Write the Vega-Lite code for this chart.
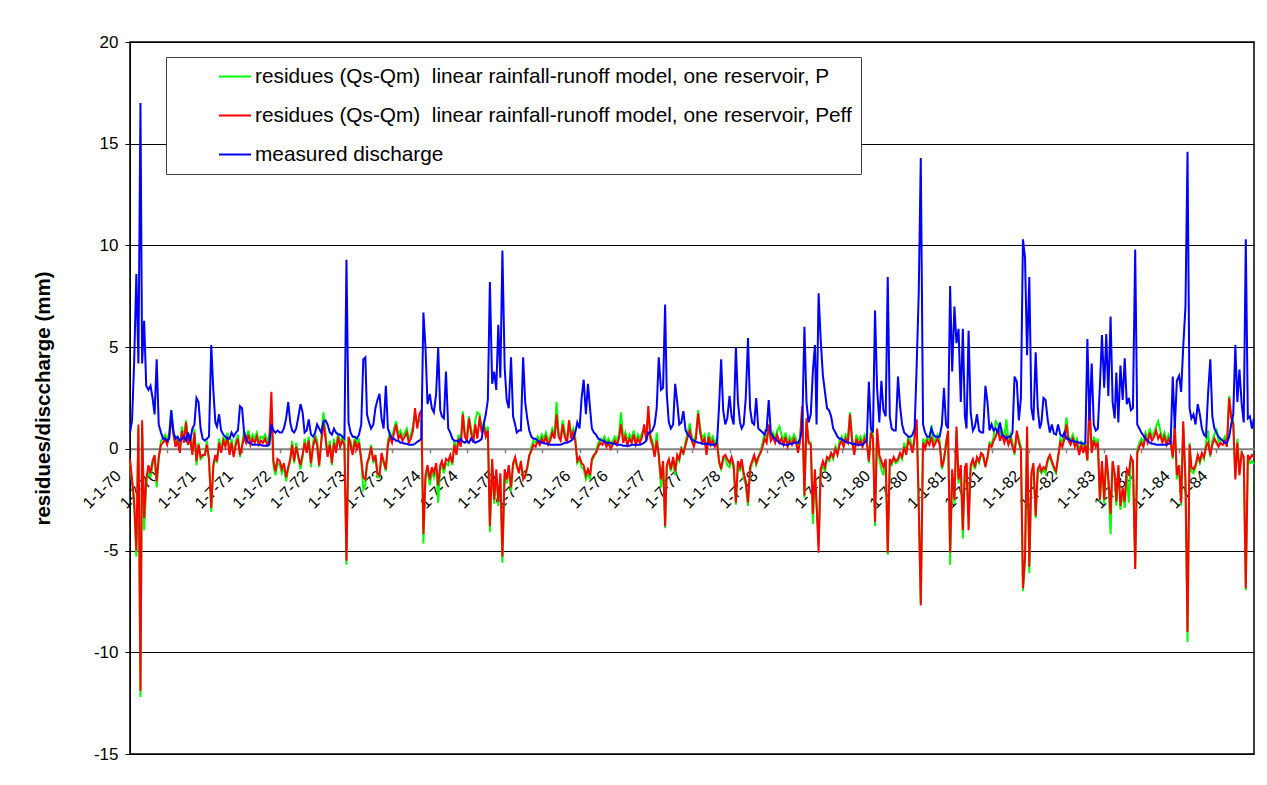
{
  "$schema": "https://vega.github.io/schema/vega-lite/v6.json",
  "width": 1124,
  "height": 712,
  "autosize": {"type": "none"},
  "padding": {"left": 130, "top": 42, "right": 13, "bottom": 31},
  "background": "white",
  "config": {
    "font": "Liberation Sans",
    "view": {"stroke": "black", "strokeWidth": 1.5},
    "line": {"strokeWidth": 2, "clip": true}
  },
  "data": {
    "values": [
      {"t":"1970-01-01","b":0.8,"r":-0.5,"g":-0.6},{"t":"1970-01-11","b":1.4,"r":-1.5,"g":-1.7},{"t":"1970-01-21","b":4.2,"r":-2.5,"g":-2.8},
      {"t":"1970-02-01","b":8.6,"r":-5.0,"g":-5.3},{"t":"1970-02-11","b":4.2,"r":1.2,"g":1.0},{"t":"1970-02-21","b":17.0,"r":-11.9,"g":-12.2},
      {"t":"1970-03-01","b":4.2,"r":1.4,"g":1.2},{"t":"1970-03-11","b":6.3,"r":-3.4,"g":-4.0},{"t":"1970-03-21","b":3.1,"r":-1.5,"g":-1.8},
      {"t":"1970-04-01","b":2.9,"r":-0.8,"g":-1.0},{"t":"1970-04-11","b":3.1,"r":-1.2,"g":-1.4},{"t":"1970-04-21","b":2.5,"r":-0.6,"g":-0.8},
      {"t":"1970-05-01","b":1.7,"r":-0.3,"g":-0.4},{"t":"1970-05-11","b":4.4,"r":-1.6,"g":-1.9},{"t":"1970-05-21","b":1.2,"r":-0.4,"g":-0.5},
      {"t":"1970-06-01","b":0.8,"r":0.2,"g":0.4},{"t":"1970-06-11","b":0.5,"r":0.3,"g":0.5},{"t":"1970-06-21","b":0.5,"r":0.5,"g":0.7},
      {"t":"1970-07-01","b":0.4,"r":0.2,"g":0.4},{"t":"1970-07-11","b":0.5,"r":0.6,"g":0.8},{"t":"1970-07-21","b":1.9,"r":1.5,"g":1.9},
      {"t":"1970-08-01","b":0.8,"r":0.7,"g":0.9},{"t":"1970-08-11","b":0.5,"r":0.1,"g":0.3},{"t":"1970-08-21","b":0.6,"r":0.4,"g":0.6},
      {"t":"1970-09-01","b":0.4,"r":-0.2,"g":-0.1},{"t":"1970-09-11","b":0.5,"r":0.9,"g":1.1},{"t":"1970-09-21","b":0.6,"r":0.3,"g":0.5},
      {"t":"1970-10-01","b":0.4,"r":1.3,"g":1.4},{"t":"1970-10-11","b":0.8,"r":0.2,"g":0.4},{"t":"1970-10-21","b":0.4,"r":0.5,"g":0.7},
      {"t":"1970-11-01","b":1.0,"r":-0.3,"g":-0.2},{"t":"1970-11-11","b":1.2,"r":0.8,"g":1.0},{"t":"1970-11-21","b":2.5,"r":-0.6,"g":-0.8},
      {"t":"1970-12-01","b":2.3,"r":0.2,"g":0.3},{"t":"1970-12-11","b":1.0,"r":-0.4,"g":-0.5},{"t":"1970-12-21","b":0.5,"r":-0.3,"g":-0.4},
      {"t":"1971-01-01","b":0.4,"r":-0.3,"g":-0.2},{"t":"1971-01-11","b":0.5,"r":0.2,"g":0.4},{"t":"1971-01-21","b":0.6,"r":-0.5,"g":-0.6},
      {"t":"1971-02-01","b":5.1,"r":-2.9,"g":-3.1},{"t":"1971-02-11","b":2.9,"r":-0.8,"g":-0.9},{"t":"1971-02-21","b":1.3,"r":-0.3,"g":-0.4},
      {"t":"1971-03-01","b":1.1,"r":-0.6,"g":-0.7},{"t":"1971-03-11","b":1.7,"r":0.3,"g":0.5},{"t":"1971-03-21","b":0.9,"r":-0.2,"g":-0.1},
      {"t":"1971-04-01","b":0.7,"r":0.4,"g":0.6},{"t":"1971-04-11","b":0.6,"r":0.1,"g":0.3},{"t":"1971-04-21","b":0.5,"r":0.6,"g":0.8},
      {"t":"1971-05-01","b":0.5,"r":-0.3,"g":-0.2},{"t":"1971-05-11","b":0.8,"r":0.3,"g":0.5},{"t":"1971-05-21","b":0.6,"r":-0.4,"g":-0.3},
      {"t":"1971-06-01","b":0.8,"r":0.2,"g":0.4},{"t":"1971-06-11","b":0.9,"r":0.5,"g":0.7},{"t":"1971-06-21","b":2.1,"r":-0.3,"g":-0.4},
      {"t":"1971-07-01","b":2.0,"r":0.1,"g":0.2},{"t":"1971-07-11","b":0.8,"r":0.6,"g":0.9},{"t":"1971-07-21","b":0.5,"r":0.3,"g":0.5},
      {"t":"1971-08-01","b":0.3,"r":0.7,"g":0.9},{"t":"1971-08-11","b":0.3,"r":0.2,"g":0.4},{"t":"1971-08-21","b":0.2,"r":0.5,"g":0.7},
      {"t":"1971-09-01","b":0.2,"r":0.3,"g":0.5},{"t":"1971-09-11","b":0.2,"r":0.6,"g":0.8},{"t":"1971-09-21","b":0.2,"r":0.2,"g":0.4},
      {"t":"1971-10-01","b":0.2,"r":0.4,"g":0.6},{"t":"1971-10-11","b":0.15,"r":0.3,"g":0.5},{"t":"1971-10-21","b":0.15,"r":0.5,"g":0.7},
      {"t":"1971-11-01","b":0.15,"r":0.2,"g":0.4},{"t":"1971-11-11","b":0.2,"r":0.4,"g":0.6},{"t":"1971-11-21","b":1.2,"r":2.8,"g":1.4},
      {"t":"1971-12-01","b":0.9,"r":-0.6,"g":-0.8},{"t":"1971-12-11","b":0.8,"r":-1.1,"g":-1.3},{"t":"1971-12-21","b":0.9,"r":-0.5,"g":-0.7},
      {"t":"1972-01-01","b":0.8,"r":-0.6,"g":-0.8},{"t":"1972-01-11","b":0.8,"r":-1.0,"g":-1.2},{"t":"1972-01-21","b":1.0,"r":-0.7,"g":-0.9},
      {"t":"1972-02-01","b":1.5,"r":-1.4,"g":-1.6},{"t":"1972-02-11","b":2.3,"r":-0.9,"g":-1.0},{"t":"1972-02-21","b":1.3,"r":-0.5,"g":-0.6},
      {"t":"1972-03-01","b":0.9,"r":0.2,"g":0.4},{"t":"1972-03-11","b":0.8,"r":-0.6,"g":-0.7},{"t":"1972-03-21","b":1.0,"r":0.1,"g":0.3},
      {"t":"1972-04-01","b":1.6,"r":-0.4,"g":-0.5},{"t":"1972-04-11","b":2.2,"r":-0.8,"g":-1.0},{"t":"1972-04-21","b":1.8,"r":-0.3,"g":-0.4},
      {"t":"1972-05-01","b":0.8,"r":0.3,"g":0.5},{"t":"1972-05-11","b":0.9,"r":-0.2,"g":-0.1},{"t":"1972-05-21","b":1.45,"r":0.4,"g":0.6},
      {"t":"1972-06-01","b":0.7,"r":-0.7,"g":-0.9},{"t":"1972-06-11","b":0.6,"r":0.1,"g":0.3},{"t":"1972-06-21","b":0.8,"r":0.5,"g":0.7},
      {"t":"1972-07-01","b":1.2,"r":0.2,"g":0.4},{"t":"1972-07-11","b":1.0,"r":-0.8,"g":-0.9},{"t":"1972-07-21","b":0.8,"r":0.3,"g":0.5},
      {"t":"1972-08-01","b":1.35,"r":1.3,"g":1.8},{"t":"1972-08-11","b":1.4,"r":0.5,"g":0.8},{"t":"1972-08-21","b":1.2,"r":-0.4,"g":-0.3},
      {"t":"1972-09-01","b":0.8,"r":0.2,"g":0.4},{"t":"1972-09-11","b":0.7,"r":-0.7,"g":-0.8},{"t":"1972-09-21","b":1.0,"r":0.3,"g":0.5},
      {"t":"1972-10-01","b":0.8,"r":-0.2,"g":-0.1},{"t":"1972-10-11","b":0.7,"r":0.6,"g":0.8},{"t":"1972-10-21","b":0.7,"r":0.1,"g":0.3},
      {"t":"1972-11-01","b":0.6,"r":0.4,"g":0.6},{"t":"1972-11-11","b":0.5,"r":0.2,"g":0.4},{"t":"1972-11-21","b":9.3,"r":-5.5,"g":-5.7},
      {"t":"1972-12-01","b":1.3,"r":0.6,"g":0.5},{"t":"1972-12-11","b":0.8,"r":0.2,"g":0.4},{"t":"1972-12-21","b":0.6,"r":-0.3,"g":-0.2},
      {"t":"1973-01-01","b":0.6,"r":0.4,"g":0.6},{"t":"1973-01-11","b":0.5,"r":0.0,"g":0.2},{"t":"1973-01-21","b":0.7,"r":0.3,"g":0.5},
      {"t":"1973-02-01","b":1.2,"r":-0.5,"g":-0.6},{"t":"1973-02-11","b":4.4,"r":-1.4,"g":-2.0},{"t":"1973-02-21","b":4.5,"r":-1.5,"g":-1.8},
      {"t":"1973-03-01","b":1.7,"r":-0.7,"g":-0.8},{"t":"1973-03-11","b":1.3,"r":-0.4,"g":-0.5},{"t":"1973-03-21","b":1.0,"r":0.1,"g":0.2},
      {"t":"1973-04-01","b":1.2,"r":-0.6,"g":-0.7},{"t":"1973-04-11","b":2.0,"r":-0.3,"g":-0.4},{"t":"1973-04-21","b":2.4,"r":-1.2,"g":-1.4},
      {"t":"1973-05-01","b":2.7,"r":-1.3,"g":-1.4},{"t":"1973-05-11","b":1.5,"r":-0.2,"g":-0.3},{"t":"1973-05-21","b":1.0,"r":-0.6,"g":-0.7},
      {"t":"1973-06-01","b":3.1,"r":-1.0,"g":-1.1},{"t":"1973-06-11","b":1.0,"r":0.2,"g":0.4},{"t":"1973-06-21","b":0.7,"r":0.6,"g":0.8},
      {"t":"1973-07-01","b":0.5,"r":0.3,"g":0.5},{"t":"1973-07-11","b":0.5,"r":0.8,"g":1.0},{"t":"1973-07-21","b":0.4,"r":1.2,"g":1.35},
      {"t":"1973-08-01","b":0.4,"r":0.5,"g":0.7},{"t":"1973-08-11","b":0.3,"r":0.7,"g":0.9},{"t":"1973-08-21","b":0.3,"r":0.4,"g":0.6},
      {"t":"1973-09-01","b":0.25,"r":0.6,"g":0.8},{"t":"1973-09-11","b":0.25,"r":0.8,"g":1.0},{"t":"1973-09-21","b":0.2,"r":0.3,"g":0.5},
      {"t":"1973-10-01","b":0.2,"r":0.5,"g":0.7},{"t":"1973-10-11","b":0.2,"r":0.9,"g":1.1},{"t":"1973-10-21","b":0.25,"r":2.0,"g":1.6},
      {"t":"1973-11-01","b":0.35,"r":1.0,"g":1.2},{"t":"1973-11-11","b":0.4,"r":1.7,"g":1.4},{"t":"1973-11-21","b":0.5,"r":1.9,"g":1.3},
      {"t":"1973-12-01","b":6.7,"r":-4.2,"g":-4.65},{"t":"1973-12-11","b":5.0,"r":-1.3,"g":-1.5},{"t":"1973-12-21","b":2.2,"r":-0.8,"g":-1.0},
      {"t":"1974-01-01","b":2.7,"r":-1.5,"g":-1.8},{"t":"1974-01-11","b":2.0,"r":-0.9,"g":-1.1},{"t":"1974-01-21","b":1.8,"r":-1.2,"g":-1.4},
      {"t":"1974-02-01","b":2.7,"r":-0.7,"g":-0.9},{"t":"1974-02-11","b":5.0,"r":-1.8,"g":-2.65},{"t":"1974-02-21","b":1.9,"r":-0.8,"g":-1.0},
      {"t":"1974-03-01","b":1.6,"r":-0.6,"g":-0.8},{"t":"1974-03-11","b":1.5,"r":-1.0,"g":-1.2},{"t":"1974-03-21","b":3.8,"r":-0.5,"g":-0.7},
      {"t":"1974-04-01","b":1.0,"r":-0.6,"g":-0.8},{"t":"1974-04-11","b":0.8,"r":-0.3,"g":-0.4},{"t":"1974-04-21","b":0.5,"r":-0.7,"g":-0.8},
      {"t":"1974-05-01","b":0.4,"r":0.2,"g":0.4},{"t":"1974-05-11","b":0.4,"r":-0.3,"g":-0.2},{"t":"1974-05-21","b":0.35,"r":0.5,"g":0.7},
      {"t":"1974-06-01","b":0.5,"r":0.1,"g":0.3},{"t":"1974-06-11","b":0.35,"r":1.7,"g":1.85},{"t":"1974-06-21","b":0.3,"r":0.6,"g":0.8},
      {"t":"1974-07-01","b":0.4,"r":0.4,"g":0.6},{"t":"1974-07-11","b":0.3,"r":1.5,"g":1.6},{"t":"1974-07-21","b":0.5,"r":0.8,"g":1.0},
      {"t":"1974-08-01","b":0.4,"r":0.3,"g":0.5},{"t":"1974-08-11","b":0.3,"r":1.2,"g":1.4},{"t":"1974-08-21","b":0.35,"r":0.5,"g":1.8},
      {"t":"1974-09-01","b":0.4,"r":1.6,"g":1.7},{"t":"1974-09-11","b":0.5,"r":0.8,"g":1.0},{"t":"1974-09-21","b":1.2,"r":1.1,"g":1.3},
      {"t":"1974-10-01","b":1.7,"r":0.6,"g":0.8},{"t":"1974-10-11","b":2.4,"r":0.9,"g":1.1},{"t":"1974-10-21","b":8.2,"r":-3.8,"g":-4.1},
      {"t":"1974-11-01","b":3.2,"r":-0.5,"g":-0.6},{"t":"1974-11-11","b":3.8,"r":-2.5,"g":-2.7},{"t":"1974-11-21","b":2.9,"r":-1.0,"g":-1.2},
      {"t":"1974-12-01","b":6.1,"r":-2.6,"g":-2.8},{"t":"1974-12-11","b":3.5,"r":-1.2,"g":-1.4},{"t":"1974-12-21","b":9.75,"r":-5.3,"g":-5.6},
      {"t":"1975-01-01","b":4.0,"r":-1.0,"g":-1.2},{"t":"1975-01-11","b":2.4,"r":-1.5,"g":-1.7},{"t":"1975-01-21","b":2.0,"r":-0.8,"g":-1.0},
      {"t":"1975-02-01","b":4.5,"r":-1.9,"g":-2.1},{"t":"1975-02-11","b":1.6,"r":-0.7,"g":-0.8},{"t":"1975-02-21","b":1.2,"r":-0.4,"g":-0.5},
      {"t":"1975-03-01","b":0.8,"r":-0.8,"g":-0.9},{"t":"1975-03-11","b":0.9,"r":-1.2,"g":-1.0},{"t":"1975-03-21","b":0.9,"r":-0.6,"g":-0.7},
      {"t":"1975-04-01","b":4.5,"r":-1.5,"g":-1.3},{"t":"1975-04-11","b":2.3,"r":-1.3,"g":-1.4},{"t":"1975-04-21","b":1.5,"r":-0.9,"g":-1.0},
      {"t":"1975-05-01","b":0.9,"r":-0.3,"g":-0.4},{"t":"1975-05-11","b":0.6,"r":-0.1,"g":0.1},{"t":"1975-05-21","b":0.5,"r":0.2,"g":0.4},
      {"t":"1975-06-01","b":0.5,"r":0.1,"g":0.3},{"t":"1975-06-11","b":0.4,"r":0.4,"g":0.6},{"t":"1975-06-21","b":0.35,"r":0.2,"g":0.4},
      {"t":"1975-07-01","b":0.3,"r":0.5,"g":0.7},{"t":"1975-07-11","b":0.3,"r":0.3,"g":0.5},{"t":"1975-07-21","b":0.25,"r":0.6,"g":0.8},
      {"t":"1975-08-01","b":0.25,"r":0.2,"g":0.4},{"t":"1975-08-11","b":0.2,"r":0.4,"g":0.6},{"t":"1975-08-21","b":0.2,"r":0.8,"g":1.0},
      {"t":"1975-09-01","b":0.2,"r":0.5,"g":0.7},{"t":"1975-09-11","b":0.2,"r":1.7,"g":2.3},{"t":"1975-09-21","b":0.2,"r":0.6,"g":0.8},
      {"t":"1975-10-01","b":0.2,"r":0.4,"g":0.6},{"t":"1975-10-11","b":0.25,"r":1.2,"g":1.4},{"t":"1975-10-21","b":0.3,"r":0.6,"g":0.8},
      {"t":"1975-11-01","b":0.3,"r":0.3,"g":0.5},{"t":"1975-11-11","b":0.35,"r":1.4,"g":1.4},{"t":"1975-11-21","b":0.4,"r":0.5,"g":0.7},
      {"t":"1975-12-01","b":0.5,"r":0.8,"g":1.0},{"t":"1975-12-11","b":0.8,"r":0.4,"g":0.6},{"t":"1975-12-21","b":1.3,"r":-0.6,"g":-0.7},
      {"t":"1976-01-01","b":1.0,"r":-0.4,"g":-0.5},{"t":"1976-01-11","b":2.5,"r":-0.7,"g":-0.9},{"t":"1976-01-21","b":3.4,"r":-0.8,"g":-1.0},
      {"t":"1976-02-01","b":1.7,"r":-1.3,"g":-1.5},{"t":"1976-02-11","b":3.2,"r":-1.0,"g":-1.2},{"t":"1976-02-21","b":2.0,"r":-1.3,"g":-1.5},
      {"t":"1976-03-01","b":1.0,"r":-0.5,"g":-0.6},{"t":"1976-03-11","b":0.8,"r":-0.3,"g":-0.4},{"t":"1976-03-21","b":0.7,"r":-0.2,"g":-0.1},
      {"t":"1976-04-01","b":0.5,"r":0.1,"g":0.3},{"t":"1976-04-11","b":0.45,"r":0.3,"g":0.5},{"t":"1976-04-21","b":0.4,"r":0.2,"g":0.4},
      {"t":"1976-05-01","b":0.35,"r":0.4,"g":0.6},{"t":"1976-05-11","b":0.3,"r":0.1,"g":0.3},{"t":"1976-05-21","b":0.3,"r":0.3,"g":0.5},
      {"t":"1976-06-01","b":0.3,"r":0.0,"g":0.2},{"t":"1976-06-11","b":0.25,"r":0.2,"g":0.4},{"t":"1976-06-21","b":0.25,"r":0.4,"g":0.6},
      {"t":"1976-07-01","b":0.2,"r":0.2,"g":0.4},{"t":"1976-07-11","b":0.2,"r":0.5,"g":0.7},{"t":"1976-07-21","b":0.2,"r":1.2,"g":1.8},
      {"t":"1976-08-01","b":0.15,"r":0.3,"g":0.5},{"t":"1976-08-11","b":0.15,"r":0.6,"g":0.8},{"t":"1976-08-21","b":0.15,"r":0.2,"g":0.4},
      {"t":"1976-09-01","b":0.15,"r":0.5,"g":0.7},{"t":"1976-09-11","b":0.2,"r":0.3,"g":0.5},{"t":"1976-09-21","b":0.2,"r":0.7,"g":0.9},
      {"t":"1976-10-01","b":0.2,"r":0.2,"g":0.4},{"t":"1976-10-11","b":0.2,"r":0.5,"g":0.7},{"t":"1976-10-21","b":0.2,"r":0.3,"g":0.5},
      {"t":"1976-11-01","b":0.25,"r":0.6,"g":0.8},{"t":"1976-11-11","b":0.3,"r":1.2,"g":1.0},{"t":"1976-11-21","b":0.4,"r":0.4,"g":0.6},
      {"t":"1976-12-01","b":0.8,"r":2.1,"g":1.9},{"t":"1976-12-11","b":0.8,"r":0.5,"g":0.7},{"t":"1976-12-21","b":0.9,"r":0.2,"g":0.4},
      {"t":"1977-01-01","b":1.2,"r":-0.4,"g":-0.3},{"t":"1977-01-11","b":2.0,"r":0.4,"g":0.8},{"t":"1977-01-21","b":4.5,"r":-0.3,"g":-0.4},
      {"t":"1977-02-01","b":2.9,"r":-1.5,"g":-1.9},{"t":"1977-02-11","b":3.0,"r":-0.6,"g":-0.7},{"t":"1977-02-21","b":7.1,"r":-3.8,"g":-3.9},
      {"t":"1977-03-01","b":2.7,"r":-0.8,"g":-0.9},{"t":"1977-03-11","b":1.3,"r":-0.5,"g":-0.6},{"t":"1977-03-21","b":1.0,"r":-1.0,"g":-1.1},
      {"t":"1977-04-01","b":1.2,"r":-0.4,"g":-0.5},{"t":"1977-04-11","b":3.2,"r":-1.1,"g":-1.3},{"t":"1977-04-21","b":2.3,"r":-0.3,"g":-0.4},
      {"t":"1977-05-01","b":1.2,"r":-0.5,"g":-0.6},{"t":"1977-05-11","b":1.3,"r":0.0,"g":0.1},{"t":"1977-05-21","b":1.85,"r":-0.2,"g":-0.3},
      {"t":"1977-06-01","b":0.9,"r":0.2,"g":0.4},{"t":"1977-06-11","b":0.7,"r":0.6,"g":0.8},{"t":"1977-06-21","b":0.6,"r":0.9,"g":1.25},
      {"t":"1977-07-01","b":0.45,"r":0.4,"g":0.6},{"t":"1977-07-11","b":0.4,"r":0.1,"g":0.3},{"t":"1977-07-21","b":0.35,"r":0.5,"g":0.7},
      {"t":"1977-08-01","b":0.3,"r":1.75,"g":1.9},{"t":"1977-08-11","b":0.3,"r":0.8,"g":1.0},{"t":"1977-08-21","b":0.25,"r":0.3,"g":0.5},
      {"t":"1977-09-01","b":0.25,"r":0.5,"g":0.7},{"t":"1977-09-11","b":0.25,"r":-0.3,"g":-0.2},{"t":"1977-09-21","b":0.25,"r":0.6,"g":0.8},
      {"t":"1977-10-01","b":0.2,"r":0.2,"g":0.4},{"t":"1977-10-11","b":0.2,"r":0.4,"g":0.6},{"t":"1977-10-21","b":0.2,"r":0.1,"g":0.3},
      {"t":"1977-11-01","b":0.3,"r":0.3,"g":0.5},{"t":"1977-11-11","b":2.1,"r":-0.6,"g":-0.7},{"t":"1977-11-21","b":4.4,"r":-1.0,"g":-1.0},
      {"t":"1977-12-01","b":1.9,"r":-0.4,"g":-0.6},{"t":"1977-12-11","b":1.2,"r":-0.3,"g":-0.4},{"t":"1977-12-21","b":1.5,"r":-0.5,"g":-0.8},
      {"t":"1978-01-01","b":2.6,"r":-0.7,"g":-0.9},{"t":"1978-01-11","b":1.6,"r":-0.4,"g":-0.5},{"t":"1978-01-21","b":1.2,"r":-0.8,"g":-1.0},
      {"t":"1978-02-01","b":5.0,"r":-2.65,"g":-2.75},{"t":"1978-02-11","b":2.3,"r":-0.6,"g":-0.7},{"t":"1978-02-21","b":1.3,"r":-0.9,"g":-1.1},
      {"t":"1978-03-01","b":1.0,"r":-0.5,"g":-0.6},{"t":"1978-03-11","b":1.2,"r":-1.2,"g":-1.4},{"t":"1978-03-21","b":2.5,"r":-1.6,"g":-1.8},
      {"t":"1978-04-01","b":5.45,"r":-2.65,"g":-2.8},{"t":"1978-04-11","b":2.0,"r":-0.9,"g":-1.1},{"t":"1978-04-21","b":1.3,"r":-0.6,"g":-0.7},
      {"t":"1978-05-01","b":1.2,"r":-0.3,"g":-0.4},{"t":"1978-05-11","b":2.5,"r":-0.7,"g":-0.8},{"t":"1978-05-21","b":1.0,"r":-0.4,"g":-0.5},
      {"t":"1978-06-01","b":0.9,"r":-0.2,"g":-0.1},{"t":"1978-06-11","b":0.8,"r":0.1,"g":0.3},{"t":"1978-06-21","b":0.7,"r":0.5,"g":0.8},
      {"t":"1978-07-01","b":1.0,"r":0.3,"g":0.5},{"t":"1978-07-11","b":2.4,"r":1.2,"g":1.0},{"t":"1978-07-21","b":0.8,"r":0.4,"g":0.6},
      {"t":"1978-08-01","b":0.6,"r":0.6,"g":0.8},{"t":"1978-08-11","b":0.5,"r":0.3,"g":0.5},{"t":"1978-08-21","b":0.4,"r":0.7,"g":0.9},
      {"t":"1978-09-01","b":0.3,"r":0.3,"g":1.1},{"t":"1978-09-11","b":0.25,"r":0.5,"g":0.7},{"t":"1978-09-21","b":0.2,"r":0.2,"g":0.4},
      {"t":"1978-10-01","b":0.2,"r":0.6,"g":0.8},{"t":"1978-10-11","b":0.2,"r":0.1,"g":0.3},{"t":"1978-10-21","b":0.25,"r":0.4,"g":0.6},
      {"t":"1978-11-01","b":0.25,"r":0.2,"g":0.4},{"t":"1978-11-11","b":0.3,"r":0.5,"g":0.7},{"t":"1978-11-21","b":0.3,"r":0.3,"g":0.5},
      {"t":"1978-12-01","b":0.3,"r":-0.2,"g":-0.1},{"t":"1978-12-11","b":0.5,"r":0.4,"g":0.6},{"t":"1978-12-21","b":1.0,"r":2.1,"g":2.0},
      {"t":"1979-01-01","b":6.0,"r":-2.3,"g":-2.4},{"t":"1979-01-11","b":2.3,"r":1.5,"g":1.3},{"t":"1979-01-21","b":1.3,"r":0.3,"g":0.4},
      {"t":"1979-02-01","b":1.7,"r":0.2,"g":0.3},{"t":"1979-02-11","b":3.8,"r":-3.2,"g":-3.7},{"t":"1979-02-21","b":5.1,"r":-1.0,"g":-1.2},
      {"t":"1979-03-01","b":1.2,"r":-2.65,"g":-2.8},{"t":"1979-03-11","b":7.65,"r":-5.1,"g":-4.6},{"t":"1979-03-21","b":5.4,"r":-1.0,"g":-1.2},
      {"t":"1979-04-01","b":3.6,"r":-0.6,"g":-0.8},{"t":"1979-04-11","b":2.8,"r":-0.9,"g":-1.1},{"t":"1979-04-21","b":2.0,"r":-0.4,"g":-0.5},
      {"t":"1979-05-01","b":1.9,"r":-0.5,"g":-0.6},{"t":"1979-05-11","b":1.6,"r":-0.2,"g":-0.3},{"t":"1979-05-21","b":1.0,"r":-0.4,"g":-0.5},
      {"t":"1979-06-01","b":0.8,"r":0.0,"g":0.1},{"t":"1979-06-11","b":0.6,"r":-0.3,"g":-0.2},{"t":"1979-06-21","b":0.5,"r":0.2,"g":0.4},
      {"t":"1979-07-01","b":0.5,"r":0.4,"g":0.6},{"t":"1979-07-11","b":0.4,"r":0.1,"g":0.3},{"t":"1979-07-21","b":0.35,"r":0.5,"g":0.7},
      {"t":"1979-08-01","b":0.3,"r":0.3,"g":0.5},{"t":"1979-08-11","b":0.3,"r":1.7,"g":1.8},{"t":"1979-08-21","b":0.25,"r":0.4,"g":0.6},
      {"t":"1979-09-01","b":0.25,"r":-0.3,"g":-0.2},{"t":"1979-09-11","b":0.2,"r":0.5,"g":0.7},{"t":"1979-09-21","b":0.2,"r":0.2,"g":0.4},
      {"t":"1979-10-01","b":0.2,"r":0.4,"g":0.6},{"t":"1979-10-11","b":0.2,"r":0.1,"g":0.3},{"t":"1979-10-21","b":0.3,"r":0.5,"g":0.7},
      {"t":"1979-11-01","b":0.4,"r":0.3,"g":0.5},{"t":"1979-11-11","b":3.3,"r":-0.6,"g":-0.7},{"t":"1979-11-21","b":1.0,"r":0.8,"g":0.9},
      {"t":"1979-12-01","b":0.8,"r":0.5,"g":0.7},{"t":"1979-12-11","b":6.8,"r":-3.6,"g":-3.8},{"t":"1979-12-21","b":3.0,"r":1.0,"g":0.9},
      {"t":"1980-01-01","b":1.3,"r":-0.3,"g":-0.5},{"t":"1980-01-11","b":3.35,"r":-0.6,"g":-1.0},{"t":"1980-01-21","b":1.9,"r":-0.9,"g":-1.3},
      {"t":"1980-02-01","b":1.6,"r":-0.5,"g":-0.6},{"t":"1980-02-11","b":8.45,"r":-5.1,"g":-5.2},{"t":"1980-02-21","b":1.6,"r":-0.5,"g":-0.7},
      {"t":"1980-03-01","b":1.0,"r":-0.7,"g":-0.8},{"t":"1980-03-11","b":0.9,"r":-0.4,"g":-0.5},{"t":"1980-03-21","b":0.9,"r":-0.6,"g":-0.7},
      {"t":"1980-04-01","b":3.55,"r":-0.5,"g":-0.6},{"t":"1980-04-11","b":2.1,"r":-0.2,"g":-0.3},{"t":"1980-04-21","b":1.2,"r":-0.4,"g":-0.5},
      {"t":"1980-05-01","b":0.8,"r":0.1,"g":0.3},{"t":"1980-05-11","b":0.7,"r":-0.3,"g":-0.2},{"t":"1980-05-21","b":0.6,"r":0.4,"g":0.6},
      {"t":"1980-06-01","b":0.6,"r":0.2,"g":0.4},{"t":"1980-06-11","b":0.7,"r":-0.2,"g":-0.1},{"t":"1980-06-21","b":1.0,"r":0.5,"g":0.7},
      {"t":"1980-07-01","b":4.1,"r":1.45,"g":1.2},{"t":"1980-07-11","b":7.65,"r":-2.8,"g":-2.5},{"t":"1980-07-21","b":14.3,"r":-7.7,"g":-7.6},
      {"t":"1980-08-01","b":1.2,"r":0.3,"g":0.5},{"t":"1980-08-11","b":0.8,"r":0.0,"g":0.2},{"t":"1980-08-21","b":0.6,"r":0.4,"g":0.6},
      {"t":"1980-09-01","b":0.6,"r":0.2,"g":0.4},{"t":"1980-09-11","b":1.0,"r":0.6,"g":1.15},{"t":"1980-09-21","b":0.7,"r":0.1,"g":0.3},
      {"t":"1980-10-01","b":0.6,"r":0.3,"g":0.5},{"t":"1980-10-11","b":0.6,"r":0.5,"g":0.7},{"t":"1980-10-21","b":0.6,"r":0.2,"g":0.4},
      {"t":"1980-11-01","b":1.2,"r":-0.9,"g":-1.0},{"t":"1980-11-11","b":3.0,"r":-0.5,"g":-0.6},{"t":"1980-11-21","b":1.2,"r":0.2,"g":0.4},
      {"t":"1980-12-01","b":1.0,"r":0.9,"g":0.8},{"t":"1980-12-11","b":8.0,"r":-5.1,"g":-5.7},{"t":"1980-12-21","b":3.8,"r":-1.0,"g":-1.2},
      {"t":"1981-01-01","b":7.0,"r":-2.5,"g":-2.7},{"t":"1981-01-11","b":5.2,"r":1.1,"g":0.9},{"t":"1981-01-21","b":5.9,"r":-1.5,"g":-1.7},
      {"t":"1981-02-01","b":2.3,"r":-0.8,"g":-1.0},{"t":"1981-02-11","b":5.9,"r":-4.0,"g":-4.4},{"t":"1981-02-21","b":1.6,"r":-0.9,"g":-1.1},
      {"t":"1981-03-01","b":1.0,"r":-0.7,"g":-0.8},{"t":"1981-03-11","b":5.8,"r":-4.0,"g":-3.4},{"t":"1981-03-21","b":1.8,"r":-0.8,"g":-1.0},
      {"t":"1981-04-01","b":0.9,"r":-0.5,"g":-0.6},{"t":"1981-04-11","b":1.1,"r":-0.9,"g":-1.0},{"t":"1981-04-21","b":1.7,"r":-0.4,"g":-0.5},
      {"t":"1981-05-01","b":0.9,"r":-0.6,"g":-0.7},{"t":"1981-05-11","b":0.8,"r":-0.2,"g":-0.3},{"t":"1981-05-21","b":0.8,"r":-0.3,"g":-0.4},
      {"t":"1981-06-01","b":3.1,"r":-0.9,"g":-0.8},{"t":"1981-06-11","b":2.3,"r":-0.4,"g":-0.5},{"t":"1981-06-21","b":0.9,"r":0.2,"g":0.3},
      {"t":"1981-07-01","b":1.2,"r":0.1,"g":0.2},{"t":"1981-07-11","b":0.9,"r":0.4,"g":0.6},{"t":"1981-07-21","b":1.0,"r":0.6,"g":1.35},
      {"t":"1981-08-01","b":0.8,"r":1.0,"g":1.2},{"t":"1981-08-11","b":1.3,"r":0.4,"g":0.6},{"t":"1981-08-21","b":0.7,"r":0.7,"g":0.9},
      {"t":"1981-09-01","b":0.6,"r":0.3,"g":0.5},{"t":"1981-09-11","b":0.5,"r":0.6,"g":1.45},{"t":"1981-09-21","b":0.6,"r":0.2,"g":0.4},
      {"t":"1981-10-01","b":0.6,"r":0.5,"g":0.7},{"t":"1981-10-11","b":0.8,"r":0.1,"g":0.3},{"t":"1981-10-21","b":3.55,"r":-0.2,"g":-0.3},
      {"t":"1981-11-01","b":3.3,"r":0.9,"g":0.8},{"t":"1981-11-11","b":1.4,"r":0.3,"g":0.5},{"t":"1981-11-21","b":2.5,"r":0.0,"g":0.1},
      {"t":"1981-12-01","b":10.3,"r":-6.85,"g":-7.0},{"t":"1981-12-11","b":9.4,"r":-5.3,"g":-5.6},{"t":"1981-12-21","b":4.6,"r":1.1,"g":0.9},
      {"t":"1982-01-01","b":8.45,"r":-5.8,"g":-6.1},{"t":"1982-01-11","b":2.0,"r":-1.2,"g":-1.4},{"t":"1982-01-21","b":1.4,"r":-0.7,"g":-0.9},
      {"t":"1982-02-01","b":4.75,"r":-3.3,"g":-3.4},{"t":"1982-02-11","b":2.0,"r":-1.0,"g":-1.2},{"t":"1982-02-21","b":1.0,"r":-0.8,"g":-1.0},
      {"t":"1982-03-01","b":1.3,"r":-1.1,"g":-1.2},{"t":"1982-03-11","b":2.5,"r":-0.9,"g":-1.0},{"t":"1982-03-21","b":2.4,"r":-1.0,"g":-1.2},
      {"t":"1982-04-01","b":1.4,"r":-0.5,"g":-0.6},{"t":"1982-04-11","b":0.8,"r":-0.3,"g":-0.4},{"t":"1982-04-21","b":1.2,"r":-0.6,"g":-0.7},
      {"t":"1982-05-01","b":0.75,"r":-0.9,"g":-1.0},{"t":"1982-05-11","b":0.7,"r":-1.1,"g":-1.2},{"t":"1982-05-21","b":1.2,"r":-0.4,"g":-0.5},
      {"t":"1982-06-01","b":0.7,"r":0.3,"g":0.5},{"t":"1982-06-11","b":0.6,"r":0.1,"g":0.3},{"t":"1982-06-21","b":0.8,"r":0.5,"g":0.7},
      {"t":"1982-07-01","b":0.5,"r":1.2,"g":1.55},{"t":"1982-07-11","b":0.5,"r":0.4,"g":0.6},{"t":"1982-07-21","b":0.4,"r":0.2,"g":0.4},
      {"t":"1982-08-01","b":0.4,"r":0.5,"g":0.7},{"t":"1982-08-11","b":0.35,"r":0.1,"g":0.3},{"t":"1982-08-21","b":0.35,"r":0.3,"g":0.5},
      {"t":"1982-09-01","b":0.3,"r":-0.3,"g":-0.2},{"t":"1982-09-11","b":0.3,"r":0.2,"g":0.4},{"t":"1982-09-21","b":0.25,"r":-0.2,"g":-0.1},
      {"t":"1982-10-01","b":0.3,"r":0.2,"g":0.4},{"t":"1982-10-11","b":5.4,"r":-0.55,"g":-0.6},{"t":"1982-10-21","b":1.4,"r":2.3,"g":2.0},
      {"t":"1982-11-01","b":4.2,"r":-0.2,"g":-0.1},{"t":"1982-11-11","b":1.2,"r":0.4,"g":0.6},{"t":"1982-11-21","b":0.9,"r":0.1,"g":0.3},
      {"t":"1982-12-01","b":1.0,"r":0.3,"g":0.5},{"t":"1982-12-11","b":3.1,"r":-2.5,"g":-2.6},{"t":"1982-12-21","b":5.6,"r":-0.6,"g":-0.8},
      {"t":"1983-01-01","b":3.0,"r":-2.5,"g":-2.7},{"t":"1983-01-11","b":5.65,"r":-0.3,"g":-0.4},{"t":"1983-01-21","b":2.6,"r":-1.4,"g":-1.6},
      {"t":"1983-02-01","b":6.5,"r":-3.2,"g":-4.2},{"t":"1983-02-11","b":2.3,"r":-0.6,"g":-0.7},{"t":"1983-02-21","b":1.5,"r":-1.2,"g":-1.4},
      {"t":"1983-03-01","b":3.75,"r":-2.6,"g":-2.8},{"t":"1983-03-11","b":1.3,"r":-0.8,"g":-0.9},{"t":"1983-03-21","b":4.1,"r":-2.8,"g":-3.0},
      {"t":"1983-04-01","b":2.4,"r":-1.9,"g":-2.1},{"t":"1983-04-11","b":4.45,"r":-2.6,"g":-2.9},{"t":"1983-04-21","b":2.2,"r":-1.0,"g":-1.2},
      {"t":"1983-05-01","b":2.5,"r":-1.2,"g":-2.65},{"t":"1983-05-11","b":1.9,"r":-0.4,"g":-0.5},{"t":"1983-05-21","b":2.0,"r":-0.6,"g":-0.7},
      {"t":"1983-06-01","b":9.8,"r":-5.9,"g":-5.9},{"t":"1983-06-11","b":1.2,"r":-0.2,"g":-0.1},{"t":"1983-06-21","b":1.0,"r":0.1,"g":0.3},
      {"t":"1983-07-01","b":0.8,"r":0.3,"g":0.5},{"t":"1983-07-11","b":0.65,"r":0.1,"g":0.3},{"t":"1983-07-21","b":0.5,"r":0.6,"g":0.8},
      {"t":"1983-08-01","b":0.4,"r":0.3,"g":0.5},{"t":"1983-08-11","b":0.3,"r":0.8,"g":1.0},{"t":"1983-08-21","b":0.25,"r":0.4,"g":0.6},
      {"t":"1983-09-01","b":0.25,"r":0.6,"g":0.8},{"t":"1983-09-11","b":0.2,"r":0.9,"g":1.1},{"t":"1983-09-21","b":0.2,"r":0.5,"g":1.35},
      {"t":"1983-10-01","b":0.2,"r":0.7,"g":0.9},{"t":"1983-10-11","b":0.2,"r":0.3,"g":0.5},{"t":"1983-10-21","b":0.2,"r":0.6,"g":0.8},
      {"t":"1983-11-01","b":0.2,"r":0.2,"g":0.4},{"t":"1983-11-11","b":0.25,"r":0.5,"g":0.7},{"t":"1983-11-21","b":0.3,"r":0.3,"g":0.5},
      {"t":"1983-12-01","b":3.55,"r":-0.4,"g":-0.5},{"t":"1983-12-11","b":1.0,"r":1.15,"g":1.3},{"t":"1983-12-21","b":3.35,"r":-1.3,"g":-1.5},
      {"t":"1984-01-01","b":3.6,"r":-0.8,"g":-1.0},{"t":"1984-01-11","b":2.8,"r":-2.65,"g":-2.8},{"t":"1984-01-21","b":5.0,"r":1.35,"g":1.2},
      {"t":"1984-02-01","b":7.0,"r":-1.5,"g":-1.7},{"t":"1984-02-11","b":14.6,"r":-9.0,"g":-9.5},{"t":"1984-02-21","b":2.0,"r":0.2,"g":0.3},
      {"t":"1984-03-01","b":1.5,"r":-0.9,"g":-1.1},{"t":"1984-03-11","b":1.7,"r":-1.0,"g":-1.2},{"t":"1984-03-21","b":1.2,"r":-0.8,"g":-0.9},
      {"t":"1984-04-01","b":2.2,"r":-0.3,"g":-0.4},{"t":"1984-04-11","b":1.7,"r":-0.6,"g":-0.7},{"t":"1984-04-21","b":1.0,"r":-0.2,"g":-0.3},
      {"t":"1984-05-01","b":0.7,"r":-0.4,"g":-0.5},{"t":"1984-05-11","b":0.6,"r":0.1,"g":0.3},{"t":"1984-05-21","b":2.7,"r":0.3,"g":0.9},
      {"t":"1984-06-01","b":4.4,"r":-0.3,"g":-0.4},{"t":"1984-06-11","b":1.6,"r":0.2,"g":0.4},{"t":"1984-06-21","b":1.0,"r":0.5,"g":0.7},
      {"t":"1984-07-01","b":0.8,"r":0.3,"g":1.0},{"t":"1984-07-11","b":0.6,"r":0.1,"g":0.3},{"t":"1984-07-21","b":0.5,"r":0.3,"g":0.5},
      {"t":"1984-08-01","b":0.4,"r":0.2,"g":0.4},{"t":"1984-08-11","b":0.3,"r":0.4,"g":0.6},{"t":"1984-08-21","b":0.3,"r":0.1,"g":0.3},
      {"t":"1984-09-01","b":0.6,"r":2.5,"g":2.6},{"t":"1984-09-11","b":1.2,"r":1.5,"g":1.7},{"t":"1984-09-21","b":1.7,"r":1.2,"g":1.4},
      {"t":"1984-10-01","b":5.1,"r":-1.5,"g":-1.4},{"t":"1984-10-11","b":2.3,"r":0.3,"g":0.5},{"t":"1984-10-21","b":3.9,"r":-1.3,"g":-1.2},
      {"t":"1984-11-01","b":2.2,"r":-0.2,"g":-0.1},{"t":"1984-11-11","b":1.3,"r":-0.4,"g":-0.5},{"t":"1984-11-21","b":10.3,"r":-6.85,"g":-6.95},
      {"t":"1984-12-01","b":1.5,"r":-0.3,"g":-0.5},{"t":"1984-12-11","b":1.6,"r":-0.5,"g":-0.7},{"t":"1984-12-21","b":1.0,"r":-0.3,"g":-0.6},
      {"t":"1984-12-31","b":1.5,"r":-0.4,"g":-0.75}
    ]
  },
  "encoding": {
    "x": {
      "field": "t",
      "type": "temporal",
      "scale": {
        "type": "utc",
        "domain": [
          {"year": 1970, "month": 1, "date": 1, "utc": true},
          {"year": 1984, "month": 12, "date": 31, "utc": true}
        ]
      },
      "axis": {
        "title": null,
        "orient": "bottom",
        "offset": -305.14,
        "tickCount": {"interval": "month", "step": 6},
        "labelExpr": "utcFormat(datum.value, '%-d-%-m-%y')",
        "labelAngle": -45,
        "labelAlign": "right",
        "labelBaseline": "middle",
        "labelFont": "Liberation Sans",
        "labelFontSize": 16,
        "labelColor": "black",
        "labelOffset": -12,
        "labelPadding": 20,
        "labelOverlap": false,
        "labelFlush": false,
        "labelBound": false,
        "tickSize": 4,
        "tickColor": "#808080",
        "tickWidth": 1.5,
        "domainColor": "#808080",
        "domainWidth": 2,
        "grid": false
      }
    }
  },
  "layer": [
    {
      "mark": {"type": "line"},
      "encoding": {
        "y": {
          "field": "g",
          "type": "quantitative",
          "scale": {"domain": [-15, 20], "nice": false, "zero": false},
          "axis": {
            "title": "residues/disccharge (mm)",
            "titleFont": "Liberation Sans",
            "titleFontSize": 20.5,
            "titleFontWeight": "bold",
            "titleColor": "black",
            "titlePadding": 40,
            "values": [-15, -10, -5, 0, 5, 10, 15, 20],
            "labelExpr": "'' + datum.value",
            "labelFont": "Liberation Sans",
            "labelFontSize": 17,
            "labelColor": "black",
            "labelPadding": 7,
            "labelFlush": false,
            "tickSize": 5,
            "tickColor": "black",
            "domainColor": "black",
            "grid": true,
            "gridColor": {"condition": {"test": "datum.value === 0", "value": "#808080"}, "value": "black"},
            "gridWidth": 1
          }
        },
        "color": {
          "datum": "residues (Qs-Qm)\u00a0 linear rainfall-runoff model, one reservoir, P",
          "type": "nominal",
          "scale": {
            "domain": [
              "residues (Qs-Qm)\u00a0 linear rainfall-runoff model, one reservoir, P",
              "residues (Qs-Qm)\u00a0 linear rainfall-runoff model, one reservoir, Peff",
              "measured discharge"
            ],
            "range": ["#00FF00", "#FF0000", "#0000FF"]
          },
          "legend": {
            "title": null,
            "orient": "none",
            "legendX": 36,
            "legendY": 15,
            "symbolType": "stroke",
            "symbolSize": 1024,
            "symbolStrokeWidth": 2,
            "clipHeight": 21,
            "symbolOffset": 43,
            "labelOffset": 3,
            "labelFont": "Liberation Sans",
            "labelFontSize": 20.8,
            "labelColor": "black",
            "labelLimit": 0,
            "rowPadding": 17,
            "padding": 9,
            "strokeColor": "#404040",
            "fillColor": "white"
          }
        }
      }
    },
    {
      "mark": {"type": "line"},
      "encoding": {
        "y": {
          "field": "r",
          "type": "quantitative",
          "scale": {"domain": [-15, 20], "nice": false, "zero": false},
          "axis": {
            "title": "residues/disccharge (mm)",
            "titleFont": "Liberation Sans",
            "titleFontSize": 20.5,
            "titleFontWeight": "bold",
            "titleColor": "black",
            "titlePadding": 40,
            "values": [-15, -10, -5, 0, 5, 10, 15, 20],
            "labelExpr": "'' + datum.value",
            "labelFont": "Liberation Sans",
            "labelFontSize": 17,
            "labelColor": "black",
            "labelPadding": 7,
            "labelFlush": false,
            "tickSize": 5,
            "tickColor": "black",
            "domainColor": "black",
            "grid": true,
            "gridColor": {"condition": {"test": "datum.value === 0", "value": "#808080"}, "value": "black"},
            "gridWidth": 1
          }
        },
        "color": {
          "datum": "residues (Qs-Qm)\u00a0 linear rainfall-runoff model, one reservoir, Peff",
          "type": "nominal"
        }
      }
    },
    {
      "mark": {"type": "line"},
      "encoding": {
        "y": {
          "field": "b",
          "type": "quantitative",
          "scale": {"domain": [-15, 20], "nice": false, "zero": false},
          "axis": {
            "title": "residues/disccharge (mm)",
            "titleFont": "Liberation Sans",
            "titleFontSize": 20.5,
            "titleFontWeight": "bold",
            "titleColor": "black",
            "titlePadding": 40,
            "values": [-15, -10, -5, 0, 5, 10, 15, 20],
            "labelExpr": "'' + datum.value",
            "labelFont": "Liberation Sans",
            "labelFontSize": 17,
            "labelColor": "black",
            "labelPadding": 7,
            "labelFlush": false,
            "tickSize": 5,
            "tickColor": "black",
            "domainColor": "black",
            "grid": true,
            "gridColor": {"condition": {"test": "datum.value === 0", "value": "#808080"}, "value": "black"},
            "gridWidth": 1
          }
        },
        "color": {
          "datum": "measured discharge",
          "type": "nominal"
        }
      }
    }
  ]
}
